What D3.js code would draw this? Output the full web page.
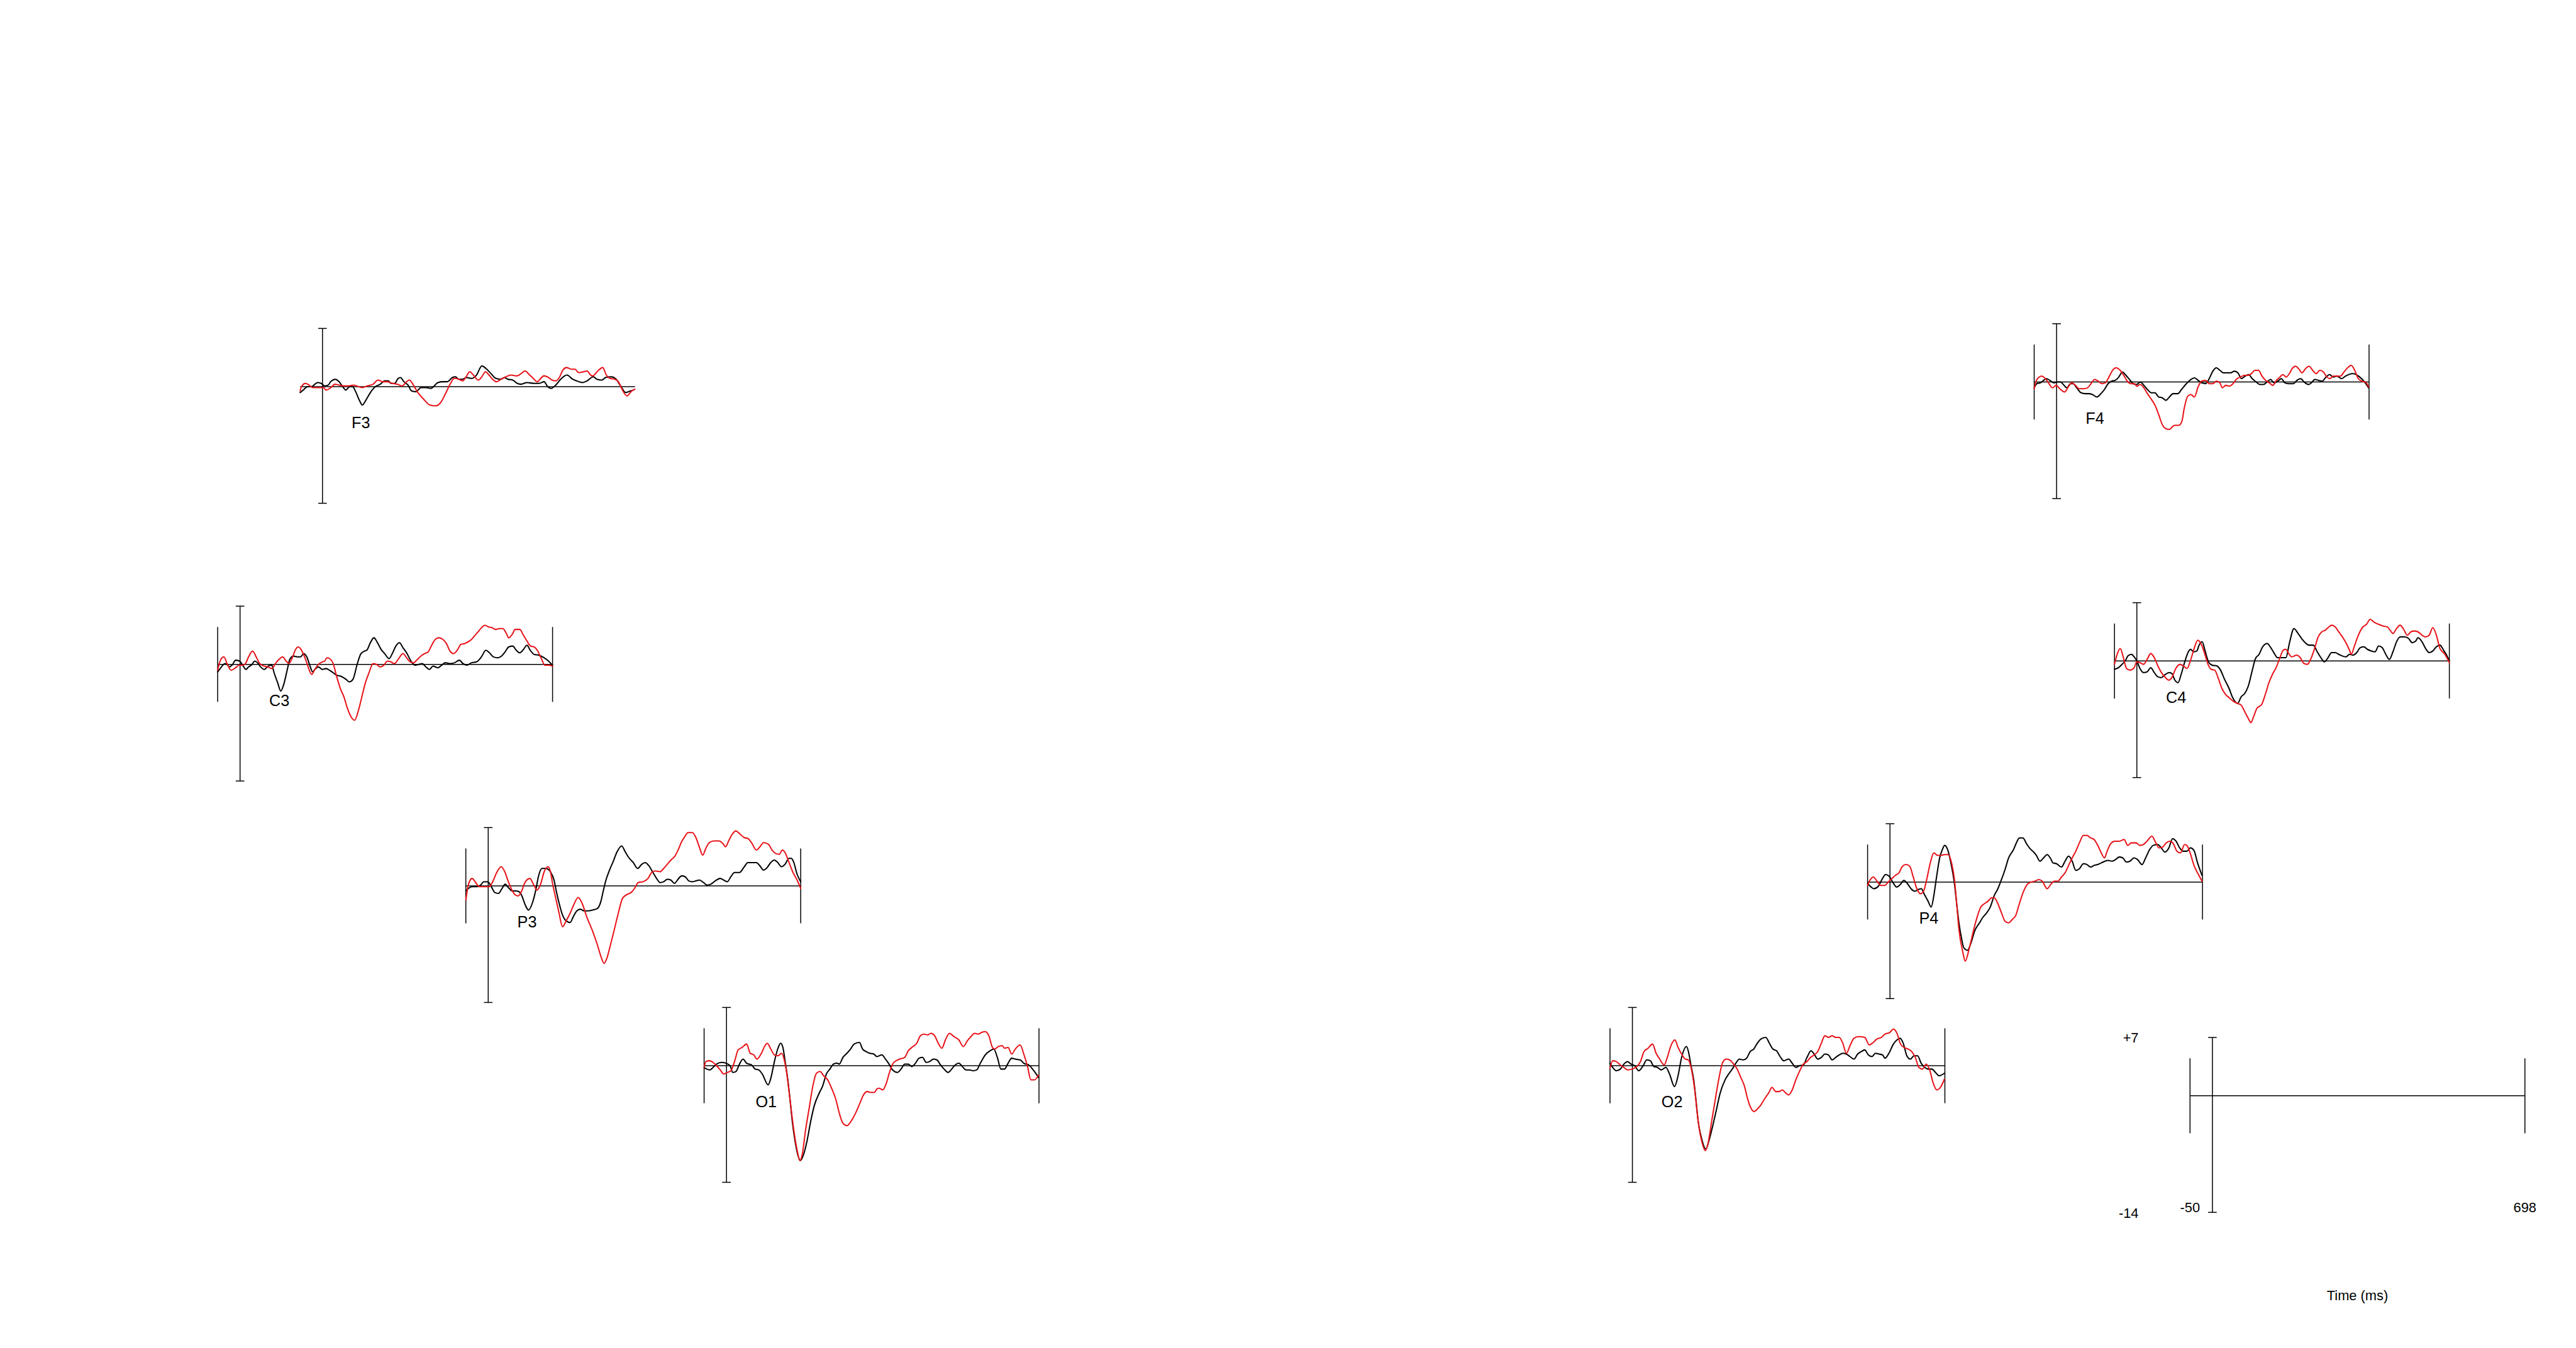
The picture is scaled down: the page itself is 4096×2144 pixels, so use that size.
<!DOCTYPE html>
<html><head><meta charset="utf-8">
<script src="https://cdn.jsdelivr.net/npm/d3@7"></script>
<style>html,body{margin:0;padding:0;background:#fff;overflow:hidden}</style>
</head><body><svg id="c" width="4096" height="2144"></svg>
<script>
const timeDomain = [-50, 698];
const ampDomain = [-14, 7];
const endTickAmp = 4.5;
const electrodes = ["F3","C3","P3","O1","F4","C4","P4","O2"];
const legendAmpLabels = ["+7","-14"];
const legendTimeLabels = ["-50","698"];
const axisTitle = "Time (ms)";

const F3_black=[[-50,-0.7],[-43,-0.4],[-33,0],[-25,0],[-11,0.5],[-3,0.4],[5,0.1],[13,0.2],[18,0.6],[29,0.9],[37,0.6],[44,0.1],[52,-0.4],[61,0],[67,0],[75,-0.7],[83,-1.7],[89,-2.2],[96,-1.7],[107,-0.7],[118,0],[129,0.3],[139,0.7],[147,0.7],[153,0.4],[161,0.4],[169,1.0],[174,1.1],[182,0.6],[191,0.2],[199,-0.5],[209,-0.6],[220,-0.1],[231,-0.1],[242,-0.2],[258,0.5],[269,0.6],[279,0.6],[290,1.1],[297,1.2],[304,0.9],[312,0.9],[322,1.1],[333,1.0],[344,1.4],[356,2.5],[365,2.2],[376,1.6],[387,1.0],[398,0.9],[406,1.1],[414,0.9],[425,0.8],[435,0.4],[443,0.3],[457,0.5],[473,0.4],[484,0.4],[495,0.6],[503,0],[511,-0.2],[521,0.2],[532,0.9],[546,1.4],[559,0.9],[573,0.6],[581,0.5],[591,0.7],[605,1.2],[613,0.9],[624,0.8],[632,1.1],[645,1.2],[656,0.9],[667,0],[677,-0.7],[688,-0.5],[695,-0.4]];
const F3_red=[[-50,-0.5],[-46,0.1],[-38,0.4],[-30,0.2],[-22,-0.1],[-11,-0.1],[2,-0.1],[8,-0.4],[19,-0.1],[28,0.3],[37,0.2],[48,0.1],[59,0.1],[70,0.2],[81,0],[89,-0.1],[100,0.1],[113,0.3],[124,0.8],[135,0.6],[145,0.6],[156,0.4],[167,0.3],[178,0.1],[186,0.5],[194,0.8],[202,0.3],[213,-0.7],[226,-1.5],[240,-2.2],[253,-2.3],[264,-1.9],[275,-0.8],[286,0.4],[294,1.0],[305,0.9],[313,0.7],[321,1.2],[329,1.8],[337,1.4],[348,0.8],[356,1.2],[364,1.8],[372,1.4],[380,0.9],[388,0.6],[399,0.9],[410,1.2],[421,1.4],[434,1.3],[442,1.5],[453,1.9],[461,1.5],[469,1.1],[480,0.6],[486,0.9],[494,1.3],[502,1.2],[513,0.8],[521,0.7],[529,1.1],[537,2.0],[545,2.3],[556,2.1],[564,2.1],[572,1.7],[583,1.8],[591,1.9],[599,1.4],[604,1.3],[615,1.9],[626,2.3],[634,1.4],[642,1.0],[653,0.9],[661,0.6],[669,-0.3],[680,-1.1],[691,-0.5],[698,-0.3]];

const C3_black=[[-50,-0.9],[-43,-0.4],[-34,0.1],[-29,0],[-24,-0.3],[-18,-0.1],[-10,0.5],[-1,0.4],[6,-0.1],[13,-0.6],[19,-0.3],[25,-0.1],[33,0.4],[39,0.2],[46,-0.3],[54,-0.6],[63,-0.2],[71,-0.1],[76,-1.0],[84,-2.2],[91,-3.2],[97,-2.5],[106,-0.5],[111,0.6],[119,1.0],[130,0.9],[135,0.9],[142,1.3],[149,0.9],[157,-0.3],[162,-0.9],[167,-0.6],[175,-0.3],[184,-0.6],[192,-0.5],[200,-0.7],[208,-1.0],[216,-1.3],[224,-1.4],[237,-1.8],[244,-2.1],[252,-1.8],[262,0.1],[270,1.3],[278,1.6],[283,1.7],[291,2.6],[299,3.2],[307,2.6],[315,1.8],[323,1.3],[333,0.7],[340,1.3],[348,2.2],[356,2.6],[364,2.0],[372,1.4],[383,0.3],[391,-0.1],[399,0],[407,0.1],[415,-0.3],[423,-0.6],[431,-0.2],[442,-0.4],[450,-0.1],[458,0.2],[469,0.1],[479,0.2],[490,0.5],[498,0.1],[506,-0.1],[517,0.2],[528,0.3],[539,0.9],[549,1.7],[557,1.4],[566,0.9],[576,0.8],[584,1.0],[592,1.5],[600,2.1],[609,2.2],[617,1.7],[625,1.4],[633,1.8],[641,2.3],[647,1.8],[657,1.2],[668,1.1],[679,0.8],[689,0.4],[698,-0.1]];
const C3_red=[[-50,-0.7],[-43,0.6],[-36,0.9],[-29,0.1],[-20,-0.7],[-10,-0.4],[-2,-0.1],[6,-0.1],[12,0.1],[19,0.9],[28,1.6],[36,0.9],[44,0.1],[54,-0.2],[62,-0.3],[71,-0.5],[79,0.1],[87,0.6],[95,0.9],[103,0.4],[109,0.1],[116,0.7],[124,1.8],[130,2.1],[135,1.9],[141,1.3],[149,0.2],[154,-0.6],[160,-1.2],[167,-0.6],[175,0],[184,0.3],[189,0.4],[194,0.8],[200,0.7],[208,0.1],[216,-1.5],[224,-2.9],[232,-3.9],[240,-5.3],[248,-6.3],[256,-6.7],[264,-5.6],[272,-3.9],[280,-2.2],[288,-1.0],[297,0.1],[305,0],[313,-0.3],[321,-0.1],[329,0.4],[337,0.3],[345,0.1],[353,0.6],[364,1.3],[372,0.8],[380,0.3],[388,0.2],[396,0.6],[404,1.0],[412,1.3],[420,1.5],[428,2.3],[436,3.0],[444,3.2],[453,3.0],[461,2.5],[469,1.6],[477,1.3],[485,1.7],[493,2.4],[501,2.5],[509,2.7],[517,3.0],[525,3.5],[533,4.0],[541,4.5],[547,4.7],[555,4.5],[563,4.4],[571,4.2],[579,4.3],[587,4.3],[595,3.7],[600,3.2],[609,3.7],[614,4.2],[625,4.2],[633,3.5],[641,2.8],[649,2.2],[657,2.1],[665,1.6],[673,0.7],[681,-0.1],[689,-0.1],[698,-0.2]];

const P3_black=[[-50,-0.6],[-44,-0.3],[-36,-0.1],[-25,-0.1],[-17,0.1],[-10,0.5],[-1,0.5],[7,-0.1],[15,-0.8],[23,-0.9],[31,-0.3],[38,0.2],[45,-0.2],[53,-0.6],[61,-0.6],[69,-0.7],[76,-1.3],[82,-2.2],[90,-2.9],[99,-2.0],[107,-0.3],[112,1.1],[120,2.1],[128,2.1],[134,2.0],[139,1.7],[147,0.7],[152,-0.6],[158,-2.0],[166,-3.5],[174,-4.2],[183,-4.4],[190,-3.7],[198,-3.0],[206,-2.8],[214,-3.0],[222,-3.0],[233,-2.9],[244,-2.7],[252,-1.8],[257,-0.6],[263,0.7],[271,1.9],[279,2.9],[287,4.0],[298,4.8],[306,4.1],[314,3.4],[324,2.8],[334,2.1],[343,2.6],[351,2.8],[359,2.4],[368,1.6],[376,0.9],[384,0.4],[392,0.5],[400,0.8],[408,0.7],[416,0.3],[424,0.8],[432,1.2],[440,1.1],[448,0.6],[456,0.5],[464,0.6],[472,0.7],[481,0.4],[489,0.1],[497,0.2],[507,0.6],[518,0.9],[526,0.7],[534,0.5],[542,1.1],[550,1.6],[561,1.6],[572,2.3],[580,2.8],[591,2.8],[599,2.8],[607,2.4],[615,1.9],[623,2.2],[631,2.8],[639,3.1],[647,2.8],[655,2.3],[663,2.6],[672,3.3],[677,3.3],[682,2.9],[690,1.4],[698,0.5]];
const P3_red=[[-50,-1.7],[-44,0.2],[-36,0.9],[-28,0.4],[-20,-0.1],[-9,-0.1],[2,-0.1],[10,0.5],[18,1.5],[29,2.3],[37,1.7],[45,0.5],[53,-0.5],[61,-1.1],[67,-1.2],[74,-0.7],[82,0.4],[93,0.9],[101,0.2],[109,-0.5],[117,0.2],[125,1.7],[134,2.3],[139,1.7],[144,0.2],[151,-1.5],[158,-3.2],[166,-4.9],[174,-4.2],[182,-3.4],[190,-2.4],[201,-1.4],[209,-2.0],[220,-3.7],[233,-5.4],[244,-7.1],[252,-8.5],[259,-9.3],[265,-8.7],[273,-7.1],[281,-5.4],[290,-3.4],[300,-1.5],[311,-1.0],[319,-0.8],[327,-0.3],[335,0.4],[346,0.5],[357,0.9],[365,1.6],[373,1.8],[384,1.7],[392,2.1],[400,2.6],[408,3.1],[416,3.5],[424,4.3],[432,5.3],[440,6.0],[446,6.4],[456,6.4],[464,5.8],[472,4.6],[479,3.7],[486,4.5],[494,5.2],[505,5.4],[515,5.4],[524,5.1],[530,4.7],[537,5.4],[545,6.2],[553,6.6],[561,6.3],[572,5.8],[580,5.7],[588,5.2],[599,4.3],[607,4.7],[615,5.2],[626,5.0],[634,4.3],[642,3.9],[650,3.8],[657,4.3],[663,4.0],[672,2.8],[680,1.7],[690,0.7],[698,-0.3]];

const O1_black=[[-50,-0.2],[-44,-0.4],[-37,-0.5],[-30,-0.2],[-22,0.2],[-11,0.4],[-1,0.3],[8,0],[14,-0.8],[21,-0.7],[29,0.2],[37,0.8],[45,0.3],[56,0.1],[64,-0.4],[72,-0.5],[80,-1.0],[93,-2.3],[99,-1.5],[107,0.5],[115,2.1],[121,2.7],[126,2.2],[131,0.5],[137,-1.7],[142,-4.1],[147,-6.7],[153,-9.0],[161,-11.0],[165,-11.4],[172,-10.7],[180,-9.0],[188,-6.7],[196,-4.8],[207,-3.3],[215,-2.4],[223,-1.0],[231,-0.4],[239,0.2],[247,0.3],[252,0.2],[260,1.0],[269,1.5],[277,2.0],[285,2.6],[297,2.8],[304,2.0],[312,1.7],[320,1.5],[329,1.4],[336,1.1],[347,1.3],[355,0.8],[363,0.2],[371,-0.5],[382,-0.8],[390,-0.4],[398,0.2],[406,0.2],[414,-0.1],[422,0.3],[430,0.9],[438,1.0],[446,0.4],[454,0.5],[462,0.8],[470,0.7],[478,0.1],[486,-0.4],[495,-0.8],[503,-0.4],[511,0.1],[519,0.3],[527,-0.1],[535,-0.5],[543,-0.5],[551,-0.6],[559,-0.5],[567,0.3],[578,1.3],[589,1.8],[597,2.0],[605,1.0],[613,-0.4],[621,-0.4],[629,0.3],[637,0.9],[645,0.8],[656,0.7],[664,0.3],[675,0.1],[685,-0.5],[697,-1.4]];
const O1_red=[[-50,-0.2],[-46,0.5],[-38,0.6],[-30,0.4],[-22,0],[-14,-0.5],[-6,-1.0],[2,-0.8],[10,-0.6],[18,0.5],[26,1.9],[35,2.2],[45,2.6],[53,1.5],[61,1.3],[68,0.8],[78,1.5],[86,2.4],[91,2.7],[99,2.0],[107,1.3],[115,1.2],[123,1.5],[129,0.7],[134,-0.7],[142,-4.1],[150,-7.6],[158,-10.2],[164,-11.4],[169,-10.7],[177,-7.6],[185,-5.0],[193,-2.4],[201,-0.9],[209,-0.7],[217,-1.2],[226,-1.7],[234,-2.6],[244,-4.0],[252,-5.7],[260,-6.9],[269,-7.2],[279,-6.6],[290,-5.5],[298,-4.5],[306,-3.5],[314,-3.1],[322,-3.2],[330,-3.2],[336,-2.8],[341,-2.7],[349,-2.9],[357,-2.1],[363,-1.0],[371,0.2],[379,0.6],[387,0.8],[398,1.0],[406,1.8],[414,2.2],[425,2.7],[433,3.6],[441,3.8],[449,3.7],[457,3.9],[465,3.6],[473,2.7],[481,2.1],[489,3.1],[498,3.9],[508,3.5],[519,3.1],[529,2.3],[538,3.0],[546,3.5],[554,3.9],[562,3.8],[570,4.0],[578,4.1],[586,3.6],[594,2.2],[599,2.0],[607,2.3],[616,2.4],[621,2.1],[629,2.2],[637,1.4],[645,2.0],[656,2.5],[664,1.4],[672,0],[680,-1.7],[688,-1.7],[697,-1.1]];

const F4_black=[[-50,-0.7],[-44,-0.2],[-36,-0.1],[-29,0.2],[-23,0.4],[-15,0.2],[-6,-0.1],[2,0],[9,0],[15,-0.3],[23,-0.7],[31,-0.2],[37,-0.2],[45,-0.7],[55,-1.3],[64,-1.4],[72,-1.4],[80,-1.5],[90,-1.8],[99,-1.4],[107,-0.9],[115,-0.2],[123,0.1],[131,0.2],[139,0.6],[147,1.2],[155,0.8],[163,0.3],[171,-0.2],[179,-0.3],[187,0],[195,-0.4],[203,-0.9],[212,-1.3],[220,-1.3],[228,-1.8],[236,-1.9],[244,-2.2],[252,-1.8],[260,-1.4],[271,-1.4],[279,-0.9],[290,-0.2],[300,0.3],[308,0.5],[316,0.2],[324,-0.1],[333,-0.2],[341,0.4],[349,1.3],[357,1.7],[365,1.4],[373,1.1],[381,1.1],[389,1.1],[397,1.3],[405,1.1],[413,0.4],[421,0.7],[429,0.9],[437,0.4],[446,0],[454,-0.3],[462,-0.3],[470,0],[478,0.3],[486,-0.1],[494,0.1],[502,0.4],[510,-0.1],[518,-0.2],[529,-0.2],[537,0.2],[545,0.4],[553,0],[563,-0.3],[569,-0.1],[577,0.3],[585,0.2],[593,0.1],[602,0.6],[610,0.9],[618,0.6],[626,0.7],[637,0.4],[645,0.7],[653,0.9],[661,1.0],[669,0.9],[677,0.6],[688,0],[697,-0.7]];
const F4_red=[[-50,-0.8],[-44,0.3],[-33,0.7],[-25,0.4],[-17,-0.2],[-9,-0.7],[-1,-0.4],[7,-0.8],[18,-1.2],[26,-0.6],[34,-0.1],[42,-0.4],[50,-0.8],[61,-0.8],[69,-0.7],[77,-0.2],[85,0.3],[93,0.1],[101,-0.2],[109,-0.1],[117,0.6],[125,1.4],[133,1.7],[142,1.4],[150,0.8],[158,0.1],[166,-0.2],[174,-0.2],[179,-0.5],[187,-0.3],[195,-0.7],[203,-1.4],[212,-2.1],[220,-2.8],[228,-3.9],[236,-5.1],[244,-5.6],[252,-5.7],[260,-5.3],[265,-5.2],[273,-5.2],[280,-4.7],[285,-3.2],[293,-1.7],[300,-1.5],[308,-1.8],[316,-0.6],[324,0.1],[333,0.2],[341,-0.2],[349,-0.2],[357,0.1],[365,-0.1],[370,-0.7],[378,-0.4],[386,-0.5],[394,-0.2],[403,0.4],[411,0.6],[419,0.8],[427,0.8],[435,1.0],[443,1.4],[451,1.4],[459,0.7],[467,0.2],[475,-0.1],[483,-0.4],[491,0.2],[499,0.6],[505,0.9],[513,0.6],[521,1.1],[526,1.6],[534,1.9],[542,1.5],[548,1.1],[556,1.6],[564,1.9],[572,1.4],[580,1.0],[588,1.4],[596,1.2],[604,0.6],[610,0.4],[618,0.7],[626,0.7],[634,0.7],[642,1.2],[650,1.7],[658,2.0],[666,1.4],[674,0.4],[682,0.1],[690,0],[697,-0.6]];

const C4_black=[[-50,-1.0],[-41,-0.8],[-33,-0.4],[-25,0.1],[-20,0.6],[-12,0.8],[-6,0.5],[0,0],[7,-0.9],[15,-1.4],[23,-1.3],[31,-0.8],[39,-1.4],[47,-1.9],[54,-2.0],[64,-1.6],[72,-1.4],[78,-1.5],[85,-2.3],[92,-2.6],[99,-1.6],[107,-0.1],[115,1.1],[120,1.4],[127,1.1],[134,1.2],[139,1.9],[146,2.3],[152,1.3],[160,-0.1],[168,-0.5],[179,-0.6],[187,-1.1],[195,-2.1],[206,-3.3],[214,-4.4],[225,-5.1],[233,-4.3],[241,-3.9],[249,-3.0],[257,-1.3],[265,0.3],[273,0.8],[281,1.7],[291,2.1],[298,1.7],[306,1.0],[314,0.4],[324,0.4],[333,0.4],[341,2.2],[351,3.9],[359,3.4],[368,2.7],[376,2.2],[384,1.9],[394,1.9],[403,1.1],[411,0.4],[419,-0.1],[427,0.4],[435,1.0],[443,1.0],[451,0.8],[459,0.6],[467,0.5],[475,0.8],[483,0.7],[491,1.0],[499,1.6],[507,1.7],[515,1.4],[524,1.2],[532,1.1],[540,1.8],[548,1.6],[556,0.8],[564,0.2],[572,1.1],[580,2.3],[588,2.9],[599,2.9],[607,2.7],[615,2.2],[623,2.4],[628,2.8],[637,2.3],[645,1.5],[653,1.0],[661,1.2],[669,1.7],[677,1.9],[685,1.3],[693,0.6],[698,0]];
const C4_red=[[-50,-0.4],[-44,0.8],[-37,1.5],[-31,0.6],[-23,-0.9],[-15,-1.1],[-6,-0.8],[0,-0.1],[7,-0.2],[15,-0.4],[23,0.2],[31,0.9],[39,0.4],[47,-0.6],[55,-1.4],[64,-2.0],[71,-2.3],[78,-2.0],[87,-0.9],[96,-0.4],[104,-0.6],[112,-0.9],[120,0.1],[128,1.5],[136,2.5],[144,2.0],[152,0.8],[159,-0.4],[166,-1.0],[174,-1.1],[182,-2.1],[190,-3.3],[198,-4.0],[206,-4.4],[217,-4.9],[225,-5.1],[233,-5.3],[241,-6.1],[249,-6.9],[255,-7.4],[260,-6.8],[268,-5.7],[279,-5.2],[287,-4.0],[295,-2.6],[303,-1.6],[311,-0.8],[319,0.3],[327,1.3],[333,1.4],[338,1.0],[346,0.5],[357,0.7],[365,0.4],[373,-0.3],[381,-0.4],[389,0.3],[397,1.5],[405,2.9],[413,3.5],[421,3.7],[429,4.1],[435,4.3],[443,4.1],[451,3.5],[459,2.9],[467,2.2],[475,1.3],[479,0.8],[486,1.8],[494,3.0],[505,4.1],[513,4.4],[521,5.0],[529,4.7],[540,4.4],[550,4.2],[559,4.1],[567,3.6],[572,3.3],[580,3.9],[588,4.3],[596,3.8],[604,3.1],[612,3.5],[620,3.6],[628,3.5],[637,3.1],[645,2.9],[653,3.1],[661,4.0],[669,3.1],[677,1.5],[688,0.8],[698,-0.2]];

const P4_black=[[-50,-0.2],[-42,-0.6],[-36,-0.8],[-26,-0.5],[-18,0.3],[-10,0.9],[-2,0.7],[7,-0.1],[15,-0.6],[23,-0.3],[31,0.2],[39,-0.2],[47,-0.8],[55,-1.1],[63,-0.9],[70,-0.8],[76,-1.4],[85,-2.3],[92,-3.0],[98,-1.6],[104,0.6],[111,2.9],[117,3.9],[122,4.4],[130,3.7],[136,2.3],[144,-0.2],[149,-2.6],[154,-4.9],[160,-6.8],[165,-7.9],[173,-8.2],[181,-7.3],[189,-5.9],[200,-4.9],[208,-4.2],[216,-3.7],[224,-3.0],[233,-1.6],[241,-0.8],[249,0.3],[257,1.5],[265,2.9],[276,3.9],[284,4.9],[289,5.3],[297,5.3],[305,4.6],[313,4.0],[321,3.6],[327,3.2],[335,2.5],[343,2.9],[351,3.3],[359,2.8],[364,2.3],[372,2.2],[383,1.8],[391,2.5],[399,3.1],[407,2.5],[415,1.4],[423,1.6],[432,2.2],[440,2.1],[448,1.8],[456,2.0],[464,2.1],[472,2.3],[480,2.5],[488,2.6],[496,2.5],[504,2.7],[512,3.0],[520,2.9],[528,2.4],[536,2.5],[545,2.9],[553,2.7],[563,2.1],[571,2.9],[580,3.9],[588,4.4],[598,4.5],[606,4.1],[614,3.6],[623,4.1],[631,5.2],[639,4.9],[647,4.1],[655,3.7],[663,3.7],[671,4.1],[679,3.8],[687,2.3],[697,0.8]];
const P4_red=[[-50,-0.4],[-45,0.2],[-37,0.6],[-29,0.1],[-20,-0.4],[-12,-0.4],[-4,0],[4,0.4],[12,0.8],[20,1.1],[28,1.9],[36,2.1],[44,1.9],[52,0.6],[60,-0.8],[68,-1.4],[75,-1.1],[82,0.3],[90,2.3],[98,3.5],[106,3.2],[114,3.2],[122,3.3],[130,3.3],[138,2.2],[144,0.3],[149,-2.6],[154,-5.7],[163,-8.5],[168,-9.5],[176,-8.2],[184,-6.4],[192,-4.7],[203,-3.0],[211,-2.6],[219,-2.3],[227,-1.9],[233,-1.9],[241,-2.6],[249,-3.7],[257,-4.7],[265,-4.9],[273,-4.5],[281,-4.0],[289,-2.6],[297,-1.3],[308,-0.2],[316,0],[324,0.1],[332,0.3],[340,0.1],[351,-0.8],[359,-0.3],[367,0.1],[375,0.1],[383,0.6],[391,1.1],[399,2.0],[407,2.9],[415,3.7],[423,4.7],[432,5.6],[440,5.6],[448,5.3],[456,5.1],[464,4.4],[472,3.5],[479,2.9],[485,3.7],[493,4.6],[502,4.9],[512,4.9],[523,5.1],[531,4.4],[539,4.7],[550,4.7],[558,4.4],[566,4.5],[574,4.9],[585,5.5],[593,4.8],[601,4.1],[609,4.2],[617,4.7],[625,4.9],[633,4.6],[641,3.7],[649,3.5],[658,4.5],[663,4.4],[671,3.4],[679,2.0],[687,1.1],[697,0.1]];

const O2_black=[[-50,0.3],[-44,-0.2],[-36,-0.6],[-27,-0.4],[-19,0.2],[-11,0.5],[-3,0.2],[5,0],[14,-0.6],[24,0],[32,0.7],[40,0.6],[48,-0.1],[56,-0.2],[64,-0.5],[75,-0.2],[83,-1.0],[94,-2.5],[102,-1.2],[110,1.0],[121,2.3],[126,1.5],[131,0],[137,-1.7],[142,-4.1],[147,-6.7],[154,-8.6],[164,-10.0],[172,-8.8],[180,-7.1],[188,-5.2],[196,-3.3],[207,-1.7],[215,-1.0],[223,-0.4],[231,0.3],[239,0.8],[247,0.7],[255,0.9],[263,1.7],[271,2.0],[279,2.7],[287,3.2],[298,3.4],[306,2.7],[314,2.0],[322,1.8],[330,1.1],[338,0.6],[349,0.8],[357,0.3],[365,-0.2],[373,0],[382,0.1],[390,1.0],[399,1.8],[406,1.4],[414,0.8],[422,1.0],[430,1.4],[438,1.3],[446,0.7],[454,1.0],[462,1.3],[470,1.5],[478,1.4],[486,1.1],[495,0.8],[503,1.4],[511,1.7],[519,1.9],[527,1.3],[535,1.1],[543,1.5],[551,1.4],[559,1.3],[564,0.9],[573,1.5],[583,2.6],[591,3.1],[598,3.3],[605,2.7],[613,1.2],[621,0.8],[629,1.2],[637,1.2],[645,0.3],[653,-0.2],[661,-0.4],[669,-0.4],[677,-0.8],[685,-1.2],[697,-0.9]];
const O2_red=[[-50,-0.3],[-44,0.6],[-36,0.5],[-27,0.1],[-19,-0.2],[-11,-0.5],[-1,-0.4],[10,-0.1],[18,0.5],[26,1.7],[35,2.1],[45,2.6],[53,1.5],[61,0.8],[71,0.1],[78,1.0],[86,2.4],[95,3.1],[102,2.2],[110,1.4],[118,0.8],[125,0.7],[131,-0.2],[139,-2.8],[147,-6.7],[156,-9.3],[163,-10.2],[169,-9.3],[177,-6.7],[185,-4.1],[193,-1.6],[201,0.3],[209,0.8],[217,0.7],[226,0.2],[234,-0.4],[242,-1.4],[250,-2.4],[258,-4.1],[266,-5.2],[272,-5.5],[279,-5.2],[287,-4.7],[295,-4.0],[304,-3.3],[312,-2.6],[320,-3.1],[328,-3.1],[335,-2.9],[341,-3.2],[349,-3.5],[357,-2.9],[365,-1.7],[373,-0.7],[382,0.2],[390,0.5],[398,1.0],[406,1.3],[414,1.7],[422,2.7],[430,3.6],[438,3.4],[446,3.6],[454,3.4],[462,3.4],[470,2.7],[478,1.5],[486,2.4],[495,3.3],[505,3.5],[519,3.4],[529,2.5],[538,2.8],[546,3.2],[556,3.4],[564,3.8],[575,4.0],[583,4.4],[591,3.9],[599,2.6],[607,2.2],[616,2.0],[624,1.7],[632,1.0],[640,-0.2],[648,-0.4],[656,0.2],[664,-0.5],[672,-2.1],[680,-2.9],[688,-2.6],[697,-1.6]];

const seriesBy = {
  F3:[F3_black,F3_red], C3:[C3_black,C3_red], P3:[P3_black,P3_red], O1:[O1_black,O1_red],
  F4:[F4_black,F4_red], C4:[C4_black,C4_red], P4:[P4_black,P4_red], O2:[O2_black,O2_red]
};

// ---- layout (reference pixel space, 6000 x 3140) ----
const layout = {
  F3:{x:699, y:901, ends:false},
  C3:{x:507, y:1548, ends:true},
  P3:{x:1085, y:2064, ends:true},
  O1:{x:1640, y:2483, ends:true},
  F4:{x:4738, y:890, ends:true},
  C4:{x:4925, y:1540, ends:true},
  P4:{x:4350, y:2055, ends:true},
  O2:{x:3750, y:2483, ends:true}
};
const legendPos = {x:5101, y:2553};
const PANEL_W = 780, UNIT = 19.4;
const K = 4096/6000;
const colors = ["#000000", "#e8141a"];
const AXIS_W = 2.2, TRACE_W = 3.0, CAP = 10;
const FONT = "'Liberation Sans', Arial, Helvetica, sans-serif";
const LABEL_SIZE = 37, LEGEND_SIZE = 32;

const svg = d3.select("#c");
svg.append("rect").attr("width",4096).attr("height",2144).attr("fill","#fff");
const root = svg.append("g").attr("transform",`scale(${K})`);

function makePanel(px, py, ends){
  const x = d3.scaleLinear().domain(timeDomain).range([px, px+PANEL_W]);
  const y = d3.scaleLinear().domain(ampDomain).range([py + (-ampDomain[0])*UNIT, py - ampDomain[1]*UNIT]);
  const g = root.append("g");
  const ax = g.append("g").attr("stroke","#000").attr("stroke-width",AXIS_W).attr("fill","none");
  ax.append("line").attr("x1",x(timeDomain[0])).attr("x2",x(timeDomain[1])).attr("y1",y(0)).attr("y2",y(0));
  ax.append("line").attr("x1",x(0)).attr("x2",x(0)).attr("y1",y(ampDomain[1])).attr("y2",y(ampDomain[0]));
  ax.append("line").attr("x1",x(0)-CAP).attr("x2",x(0)+CAP).attr("y1",y(ampDomain[1])).attr("y2",y(ampDomain[1]));
  ax.append("line").attr("x1",x(0)-CAP).attr("x2",x(0)+CAP).attr("y1",y(ampDomain[0])).attr("y2",y(ampDomain[0]));
  if(ends){
    timeDomain.forEach(t=>{
      ax.append("line").attr("x1",x(t)).attr("x2",x(t)).attr("y1",y(endTickAmp)).attr("y2",y(-endTickAmp));
    });
  }
  return {g,x,y};
}

electrodes.forEach(name=>{
  const L = layout[name];
  const {g,x,y} = makePanel(L.x, L.y, L.ends);
  const line = d3.line().x(d=>x(d[0])).y(d=>y(d[1])).curve(d3.curveMonotoneX);
  seriesBy[name].forEach((data,i)=>{
    g.append("path").datum(data).attr("d",line)
      .attr("fill","none").attr("stroke",colors[i]).attr("stroke-width",TRACE_W)
      .attr("stroke-linejoin","round").attr("stroke-linecap","round");
  });
  g.append("text").attr("x",x(65)).attr("y",y(-5)).text(name)
    .attr("font-family",FONT).attr("font-size",LABEL_SIZE).attr("fill","#000");
});

// legend / scale panel
{
  const {g,x,y} = makePanel(legendPos.x, legendPos.y, true);
  const tf = s=>s.attr("font-family",FONT).attr("font-size",LEGEND_SIZE).attr("fill","#000").attr("text-anchor","middle");
  g.append("text").attr("x",x(timeDomain[0])-138).attr("y",y(ampDomain[1])+12).text(legendAmpLabels[0]).call(tf);
  g.append("text").attr("x",x(timeDomain[0])-143).attr("y",y(ampDomain[0])+13).text(legendAmpLabels[1]).call(tf);
  g.append("text").attr("x",x(timeDomain[0])).attr("y",y(ampDomain[0])).text(legendTimeLabels[0]).call(tf);
  g.append("text").attr("x",x(timeDomain[1])).attr("y",y(ampDomain[0])).text(legendTimeLabels[1]).call(tf);
  g.append("text").attr("x",x((timeDomain[0]+timeDomain[1])/2)).attr("y",y(ampDomain[0])+205).text(axisTitle).call(tf);
}
</script>
</body></html>
